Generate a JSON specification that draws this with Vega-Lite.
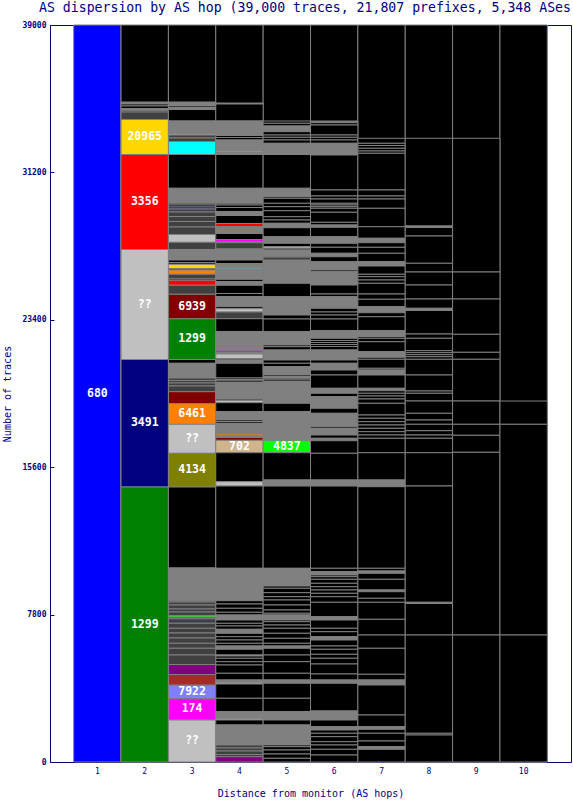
{
"$schema": "https://vega.github.io/schema/vega-lite/v6.json",
"autosize": {"type": "none"},
"padding": {"left": 50, "top": 25, "right": 2, "bottom": 38},
"width": 521,
"height": 737,
"background": "white",
"title": {"text": "AS dispersion by AS hop (39,000 traces, 21,807 prefixes, 5,348 ASes)", "anchor": "start", "frame": "group", "dx": -11, "dy": 12, "offset": 8, "baseline": "alphabetic", "font": "DejaVu Sans Mono", "fontSize": 13.2, "fontWeight": "normal", "color": "#000080"},
"config": {"view": {"stroke": "#000080", "strokeWidth": 1}},
"data": {"values": [
{"h":1,"a":0,"b":39000,"c":"680","t":"680"},
{"h":2,"a":0,"b":39000,"c":"none"},{"h":3,"a":0,"b":39000,"c":"none"},{"h":4,"a":0,"b":39000,"c":"none"},{"h":5,"a":0,"b":39000,"c":"none"},{"h":6,"a":0,"b":39000,"c":"none"},{"h":7,"a":0,"b":39000,"c":"none"},{"h":8,"a":0,"b":39000,"c":"none"},{"h":9,"a":0,"b":39000,"c":"none"},{"h":10,"a":0,"b":39000,"c":"none"},
{"h":2,"a":34819,"b":34925,"c":"many"},{"h":2,"a":34714,"b":34819,"c":"none"},{"h":2,"a":34581,"b":34714,"c":"none"},{"h":2,"a":34465,"b":34581,"c":"many"},{"h":2,"a":34396,"b":34465,"c":"none"},{"h":2,"a":34000,"b":34396,"c":"other"},
{"h":2,"a":32147,"b":34000,"c":"20965","t":"20965"},{"h":2,"a":27120,"b":32147,"c":"3356","t":"3356"},{"h":2,"a":21299,"b":27120,"c":"??","t":"??"},{"h":2,"a":14552,"b":21299,"c":"3491","t":"3491"},{"h":2,"a":0,"b":14552,"c":"1299","t":"1299"},
{"h":3,"a":34714,"b":34925,"c":"many"},{"h":3,"a":34634,"b":34714,"c":"none"},{"h":3,"a":34528,"b":34634,"c":"many"},{"h":3,"a":33920,"b":34528,"c":"none"},{"h":3,"a":33258,"b":33920,"c":"many"},{"h":3,"a":33179,"b":33258,"c":"??"},{"h":3,"a":33020,"b":33179,"c":"other"},{"h":3,"a":32835,"b":33020,"c":"other"},{"h":3,"a":32147,"b":32835,"c":"cyan"},{"h":3,"a":30359,"b":32147,"c":"none"},{"h":3,"a":29565,"b":30359,"c":"many"},{"h":3,"a":29475,"b":29565,"c":"none"},{"h":3,"a":29369,"b":29475,"c":"none"},{"h":3,"a":29263,"b":29369,"c":"3491"},{"h":3,"a":29104,"b":29263,"c":"other"},{"h":3,"a":28866,"b":29104,"c":"other"},{"h":3,"a":28602,"b":28866,"c":"other"},{"h":3,"a":28311,"b":28602,"c":"other"},{"h":3,"a":27914,"b":28311,"c":"other"},{"h":3,"a":27501,"b":27914,"c":"??"},{"h":3,"a":27120,"b":27501,"c":"other"},{"h":3,"a":26564,"b":27120,"c":"many"},{"h":3,"a":26432,"b":26564,"c":"none"},{"h":3,"a":26337,"b":26432,"c":"3491"},{"h":3,"a":26099,"b":26337,"c":"20965"},{"h":3,"a":26035,"b":26099,"c":"none"},{"h":3,"a":25808,"b":26035,"c":"6461"},{"h":3,"a":25559,"b":25808,"c":"other"},{"h":3,"a":25490,"b":25559,"c":"none"},{"h":3,"a":25226,"b":25490,"c":"3356"},{"h":3,"a":24749,"b":25226,"c":"other"},{"h":3,"a":23453,"b":24749,"c":"6939","t":"6939"},{"h":3,"a":21299,"b":23453,"c":"1299","t":"1299"},{"h":3,"a":21098,"b":21299,"c":"none"},{"h":3,"a":20320,"b":21098,"c":"many"},{"h":3,"a":20188,"b":20320,"c":"other"},{"h":3,"a":20056,"b":20188,"c":"other"},{"h":3,"a":19897,"b":20056,"c":"other"},{"h":3,"a":19595,"b":19897,"c":"other"},{"h":3,"a":18960,"b":19595,"c":"6939"},{"h":3,"a":17870,"b":18960,"c":"6461","t":"6461"},{"h":3,"a":16335,"b":17870,"c":"??","t":"??"},{"h":3,"a":14552,"b":16335,"c":"4134","t":"4134"},{"h":3,"a":10266,"b":14552,"c":"none"},{"h":3,"a":8536,"b":10266,"c":"many"},{"h":3,"a":8467,"b":8536,"c":"other"},{"h":3,"a":8308,"b":8467,"c":"other"},{"h":3,"a":8096,"b":8308,"c":"other"},{"h":3,"a":7938,"b":8096,"c":"other"},{"h":3,"a":7742,"b":7938,"c":"other"},{"h":3,"a":7657,"b":7742,"c":"4837"},{"h":3,"a":7578,"b":7657,"c":"680"},{"h":3,"a":7340,"b":7578,"c":"other"},{"h":3,"a":7075,"b":7340,"c":"other"},{"h":3,"a":6826,"b":7075,"c":"other"},{"h":3,"a":6562,"b":6826,"c":"other"},{"h":3,"a":6281,"b":6562,"c":"other"},{"h":3,"a":6017,"b":6281,"c":"other"},{"h":3,"a":5662,"b":6017,"c":"other"},{"h":3,"a":5159,"b":5662,"c":"other"},{"h":3,"a":4630,"b":5159,"c":"purple"},{"h":3,"a":4064,"b":4630,"c":"brown"},{"h":3,"a":3344,"b":4064,"c":"7922","t":"7922"},{"h":3,"a":2223,"b":3344,"c":"174","t":"174"},{"h":3,"a":0,"b":2223,"c":"??","t":"??"},
{"h":4,"a":34819,"b":34872,"c":"many"},{"h":4,"a":33920,"b":34819,"c":"none"},{"h":4,"a":33153,"b":33920,"c":"many"},{"h":4,"a":33047,"b":33153,"c":"none"},{"h":4,"a":32914,"b":33047,"c":"none"},{"h":4,"a":32359,"b":32914,"c":"many"},{"h":4,"a":32279,"b":32359,"c":"??"},{"h":4,"a":32147,"b":32279,"c":"many"},{"h":4,"a":30359,"b":32147,"c":"none"},{"h":4,"a":29565,"b":30359,"c":"many"},{"h":4,"a":29475,"b":29565,"c":"none"},{"h":4,"a":29342,"b":29475,"c":"none"},{"h":4,"a":29131,"b":29342,"c":"none"},{"h":4,"a":28919,"b":29131,"c":"many"},{"h":4,"a":28496,"b":28919,"c":"none"},{"h":4,"a":28326,"b":28496,"c":"3356"},{"h":4,"a":27967,"b":28326,"c":"many"},{"h":4,"a":27649,"b":27967,"c":"none"},{"h":4,"a":27533,"b":27649,"c":"174"},{"h":4,"a":27480,"b":27533,"c":"none"},{"h":4,"a":27146,"b":27480,"c":"other"},{"h":4,"a":26564,"b":27146,"c":"many"},{"h":4,"a":26379,"b":26564,"c":"none"},{"h":4,"a":26300,"b":26379,"c":"4134"},{"h":4,"a":26157,"b":26300,"c":"many"},{"h":4,"a":26088,"b":26157,"c":"cyan"},{"h":4,"a":25543,"b":26088,"c":"many"},{"h":4,"a":25427,"b":25543,"c":"none"},{"h":4,"a":25226,"b":25427,"c":"many"},{"h":4,"a":24792,"b":25226,"c":"none"},{"h":4,"a":24633,"b":24792,"c":"none"},{"h":4,"a":24093,"b":24633,"c":"many"},{"h":4,"a":23987,"b":24093,"c":"none"},{"h":4,"a":23813,"b":23987,"c":"??"},{"h":4,"a":23458,"b":23813,"c":"other"},{"h":4,"a":22781,"b":23458,"c":"none"},{"h":4,"a":22040,"b":22781,"c":"many"},{"h":4,"a":21976,"b":22040,"c":"purple"},{"h":4,"a":21786,"b":21976,"c":"many"},{"h":4,"a":21659,"b":21786,"c":"174"},{"h":4,"a":21590,"b":21659,"c":"many"},{"h":4,"a":21341,"b":21590,"c":"??"},{"h":4,"a":21273,"b":21341,"c":"none"},{"h":4,"a":21098,"b":21273,"c":"many"},{"h":4,"a":20320,"b":21098,"c":"none"},{"h":4,"a":20241,"b":20320,"c":"none"},{"h":4,"a":20161,"b":20241,"c":"none"},{"h":4,"a":20072,"b":20161,"c":"none"},{"h":4,"a":19209,"b":20072,"c":"many"},{"h":4,"a":19130,"b":19209,"c":"other"},{"h":4,"a":19013,"b":19130,"c":"??"},{"h":4,"a":18537,"b":19013,"c":"none"},{"h":4,"a":18098,"b":18537,"c":"many"},{"h":4,"a":18018,"b":18098,"c":"none"},{"h":4,"a":17923,"b":18018,"c":"none"},{"h":4,"a":17357,"b":17923,"c":"many"},{"h":4,"a":17277,"b":17357,"c":"6461"},{"h":4,"a":17172,"b":17277,"c":"many"},{"h":4,"a":17023,"b":17172,"c":"6939"},{"h":4,"a":16367,"b":17023,"c":"702","t":"702"},{"h":4,"a":14833,"b":16367,"c":"none"},{"h":4,"a":14605,"b":14833,"c":"??"},{"h":4,"a":10250,"b":14605,"c":"none"},{"h":4,"a":8536,"b":10250,"c":"many"},{"h":4,"a":8361,"b":8536,"c":"none"},{"h":4,"a":8133,"b":8361,"c":"none"},{"h":4,"a":7922,"b":8133,"c":"none"},{"h":4,"a":7779,"b":7922,"c":"none"},{"h":4,"a":7514,"b":7779,"c":"many"},{"h":4,"a":7340,"b":7514,"c":"none"},{"h":4,"a":7197,"b":7340,"c":"none"},{"h":4,"a":7022,"b":7197,"c":"none"},{"h":4,"a":6810,"b":7022,"c":"many"},{"h":4,"a":6631,"b":6810,"c":"none"},{"h":4,"a":6456,"b":6631,"c":"none"},{"h":4,"a":6281,"b":6456,"c":"none"},{"h":4,"a":6138,"b":6281,"c":"none"},{"h":4,"a":5964,"b":6138,"c":"many"},{"h":4,"a":5662,"b":5964,"c":"none"},{"h":4,"a":5609,"b":5662,"c":"??"},{"h":4,"a":5488,"b":5609,"c":"none"},{"h":4,"a":5308,"b":5488,"c":"none"},{"h":4,"a":5133,"b":5308,"c":"none"},{"h":4,"a":4694,"b":5133,"c":"none"},{"h":4,"a":4339,"b":4694,"c":"none"},{"h":4,"a":4218,"b":4339,"c":"many"},{"h":4,"a":4128,"b":4218,"c":"??"},{"h":4,"a":3371,"b":4128,"c":"none"},{"h":4,"a":2662,"b":3371,"c":"none"},{"h":4,"a":2312,"b":2662,"c":"many"},{"h":4,"a":2223,"b":2312,"c":"??"},{"h":4,"a":1958,"b":2223,"c":"none"},{"h":4,"a":900,"b":1958,"c":"many"},{"h":4,"a":741,"b":900,"c":"other"},{"h":4,"a":582,"b":741,"c":"other"},{"h":4,"a":397,"b":582,"c":"other"},{"h":4,"a":280,"b":397,"c":"other"},{"h":4,"a":0,"b":280,"c":"purple"},
{"h":5,"a":33798,"b":33920,"c":"none"},{"h":5,"a":33655,"b":33798,"c":"none"},{"h":5,"a":33354,"b":33655,"c":"many"},{"h":5,"a":33179,"b":33354,"c":"none"},{"h":5,"a":33057,"b":33179,"c":"none"},{"h":5,"a":32914,"b":33057,"c":"none"},{"h":5,"a":32740,"b":32914,"c":"none"},{"h":5,"a":32464,"b":32740,"c":"many"},{"h":5,"a":32412,"b":32464,"c":"none"},{"h":5,"a":32147,"b":32412,"c":"many"},{"h":5,"a":30359,"b":32147,"c":"none"},{"h":5,"a":29914,"b":30359,"c":"many"},{"h":5,"a":29829,"b":29914,"c":"none"},{"h":5,"a":29565,"b":29829,"c":"none"},{"h":5,"a":29385,"b":29565,"c":"none"},{"h":5,"a":29173,"b":29385,"c":"none"},{"h":5,"a":28856,"b":29173,"c":"none"},{"h":5,"a":28681,"b":28856,"c":"none"},{"h":5,"a":28506,"b":28681,"c":"none"},{"h":5,"a":28326,"b":28506,"c":"many"},{"h":5,"a":28273,"b":28326,"c":"??"},{"h":5,"a":27797,"b":28273,"c":"none"},{"h":5,"a":27448,"b":27797,"c":"many"},{"h":5,"a":27268,"b":27448,"c":"none"},{"h":5,"a":27183,"b":27268,"c":"??"},{"h":5,"a":27093,"b":27183,"c":"none"},{"h":5,"a":26739,"b":27093,"c":"many"},{"h":5,"a":26670,"b":26739,"c":"none"},{"h":5,"a":26564,"b":26670,"c":"none"},{"h":5,"a":26062,"b":26564,"c":"many"},{"h":5,"a":26009,"b":26062,"c":"none"},{"h":5,"a":25532,"b":26009,"c":"many"},{"h":5,"a":25480,"b":25532,"c":"none"},{"h":5,"a":25331,"b":25480,"c":"many"},{"h":5,"a":24622,"b":25331,"c":"none"},{"h":5,"a":23654,"b":24622,"c":"many"},{"h":5,"a":23442,"b":23654,"c":"none"},{"h":5,"a":22770,"b":23442,"c":"none"},{"h":5,"a":22066,"b":22770,"c":"many"},{"h":5,"a":21976,"b":22066,"c":"none"},{"h":5,"a":21802,"b":21976,"c":"none"},{"h":5,"a":21273,"b":21802,"c":"many"},{"h":5,"a":21098,"b":21273,"c":"none"},{"h":5,"a":20918,"b":21098,"c":"none"},{"h":5,"a":20479,"b":20918,"c":"many"},{"h":5,"a":20400,"b":20479,"c":"none"},{"h":5,"a":20304,"b":20400,"c":"many"},{"h":5,"a":20214,"b":20304,"c":"none"},{"h":5,"a":20124,"b":20214,"c":"none"},{"h":5,"a":18981,"b":20124,"c":"many"},{"h":5,"a":18537,"b":18981,"c":"none"},{"h":5,"a":17023,"b":18537,"c":"many"},{"h":5,"a":16367,"b":17023,"c":"4837","t":"4837"},{"h":5,"a":14923,"b":16367,"c":"none"},{"h":5,"a":14605,"b":14923,"c":"many"},{"h":5,"a":10250,"b":14605,"c":"none"},{"h":5,"a":9313,"b":10250,"c":"many"},{"h":5,"a":9192,"b":9313,"c":"none"},{"h":5,"a":8959,"b":9192,"c":"none"},{"h":5,"a":8747,"b":8959,"c":"none"},{"h":5,"a":8573,"b":8747,"c":"none"},{"h":5,"a":8308,"b":8573,"c":"none"},{"h":5,"a":8043,"b":8308,"c":"none"},{"h":5,"a":7869,"b":8043,"c":"none"},{"h":5,"a":7779,"b":7869,"c":"none"},{"h":5,"a":7514,"b":7779,"c":"many"},{"h":5,"a":7424,"b":7514,"c":"none"},{"h":5,"a":7250,"b":7424,"c":"none"},{"h":5,"a":7075,"b":7250,"c":"none"},{"h":5,"a":6810,"b":7075,"c":"none"},{"h":5,"a":6546,"b":6810,"c":"none"},{"h":5,"a":6281,"b":6546,"c":"none"},{"h":5,"a":6138,"b":6281,"c":"none"},{"h":5,"a":6017,"b":6138,"c":"many"},{"h":5,"a":5662,"b":6017,"c":"none"},{"h":5,"a":5308,"b":5662,"c":"none"},{"h":5,"a":4694,"b":5308,"c":"none"},{"h":5,"a":4339,"b":4694,"c":"none"},{"h":5,"a":4165,"b":4339,"c":"many"},{"h":5,"a":3371,"b":4165,"c":"none"},{"h":5,"a":2662,"b":3371,"c":"none"},{"h":5,"a":2223,"b":2662,"c":"many"},{"h":5,"a":1958,"b":2223,"c":"none"},{"h":5,"a":900,"b":1958,"c":"many"},{"h":5,"a":810,"b":900,"c":"none"},{"h":5,"a":635,"b":810,"c":"none"},{"h":5,"a":423,"b":635,"c":"none"},{"h":5,"a":196,"b":423,"c":"none"},{"h":5,"a":0,"b":196,"c":"none"},
{"h":6,"a":33830,"b":33920,"c":"many"},{"h":6,"a":33708,"b":33830,"c":"none"},{"h":6,"a":33179,"b":33708,"c":"none"},{"h":6,"a":33057,"b":33179,"c":"none"},{"h":6,"a":32914,"b":33057,"c":"none"},{"h":6,"a":32740,"b":32914,"c":"none"},{"h":6,"a":32464,"b":32740,"c":"many"},{"h":6,"a":32412,"b":32464,"c":"none"},{"h":6,"a":32121,"b":32412,"c":"many"},{"h":6,"a":30269,"b":32121,"c":"none"},{"h":6,"a":29951,"b":30269,"c":"none"},{"h":6,"a":29792,"b":29951,"c":"none"},{"h":6,"a":29565,"b":29792,"c":"none"},{"h":6,"a":29475,"b":29565,"c":"none"},{"h":6,"a":29385,"b":29475,"c":"none"},{"h":6,"a":29300,"b":29385,"c":"none"},{"h":6,"a":29089,"b":29300,"c":"none"},{"h":6,"a":28559,"b":29089,"c":"none"},{"h":6,"a":28416,"b":28559,"c":"none"},{"h":6,"a":28295,"b":28416,"c":"many"},{"h":6,"a":27797,"b":28295,"c":"none"},{"h":6,"a":27448,"b":27797,"c":"many"},{"h":6,"a":27236,"b":27448,"c":"none"},{"h":6,"a":26919,"b":27236,"c":"none"},{"h":6,"a":26739,"b":26919,"c":"many"},{"h":6,"a":26474,"b":26739,"c":"none"},{"h":6,"a":26035,"b":26474,"c":"many"},{"h":6,"a":25945,"b":26035,"c":"none"},{"h":6,"a":25241,"b":25945,"c":"many"},{"h":6,"a":24765,"b":25241,"c":"none"},{"h":6,"a":24622,"b":24765,"c":"none"},{"h":6,"a":24008,"b":24622,"c":"many"},{"h":6,"a":23813,"b":24008,"c":"none"},{"h":6,"a":23654,"b":23813,"c":"none"},{"h":6,"a":23442,"b":23654,"c":"none"},{"h":6,"a":22823,"b":23442,"c":"none"},{"h":6,"a":22421,"b":22823,"c":"many"},{"h":6,"a":22305,"b":22421,"c":"none"},{"h":6,"a":22199,"b":22305,"c":"none"},{"h":6,"a":22093,"b":22199,"c":"none"},{"h":6,"a":21987,"b":22093,"c":"none"},{"h":6,"a":21802,"b":21987,"c":"none"},{"h":6,"a":21273,"b":21802,"c":"many"},{"h":6,"a":21098,"b":21273,"c":"none"},{"h":6,"a":20743,"b":21098,"c":"many"},{"h":6,"a":20479,"b":20743,"c":"none"},{"h":6,"a":19775,"b":20479,"c":"none"},{"h":6,"a":19511,"b":19775,"c":"many"},{"h":6,"a":19331,"b":19511,"c":"none"},{"h":6,"a":18717,"b":19331,"c":"many"},{"h":6,"a":18452,"b":18717,"c":"none"},{"h":6,"a":17743,"b":18452,"c":"many"},{"h":6,"a":17658,"b":17743,"c":"none"},{"h":6,"a":17304,"b":17658,"c":"many"},{"h":6,"a":17129,"b":17304,"c":"none"},{"h":6,"a":17002,"b":17129,"c":"many"},{"h":6,"a":16335,"b":17002,"c":"none"},{"h":6,"a":14923,"b":16335,"c":"none"},{"h":6,"a":14605,"b":14923,"c":"many"},{"h":6,"a":10250,"b":14605,"c":"none"},{"h":6,"a":10070,"b":10250,"c":"none"},{"h":6,"a":9895,"b":10070,"c":"many"},{"h":6,"a":9806,"b":9895,"c":"none"},{"h":6,"a":9668,"b":9806,"c":"none"},{"h":6,"a":9456,"b":9668,"c":"none"},{"h":6,"a":9276,"b":9456,"c":"none"},{"h":6,"a":9102,"b":9276,"c":"none"},{"h":6,"a":8927,"b":9102,"c":"none"},{"h":6,"a":8747,"b":8927,"c":"none"},{"h":6,"a":8451,"b":8747,"c":"none"},{"h":6,"a":7689,"b":8451,"c":"none"},{"h":6,"a":7514,"b":7689,"c":"many"},{"h":6,"a":7075,"b":7514,"c":"none"},{"h":6,"a":6895,"b":7075,"c":"none"},{"h":6,"a":6631,"b":6895,"c":"none"},{"h":6,"a":6456,"b":6631,"c":"many"},{"h":6,"a":6138,"b":6456,"c":"none"},{"h":6,"a":5964,"b":6138,"c":"none"},{"h":6,"a":5699,"b":5964,"c":"none"},{"h":6,"a":5488,"b":5699,"c":"none"},{"h":6,"a":5186,"b":5488,"c":"none"},{"h":6,"a":4657,"b":5186,"c":"none"},{"h":6,"a":4339,"b":4657,"c":"none"},{"h":6,"a":4165,"b":4339,"c":"many"},{"h":6,"a":2699,"b":4165,"c":"none"},{"h":6,"a":2223,"b":2699,"c":"many"},{"h":6,"a":1868,"b":2223,"c":"none"},{"h":6,"a":1693,"b":1868,"c":"many"},{"h":6,"a":1519,"b":1693,"c":"none"},{"h":6,"a":1339,"b":1519,"c":"none"},{"h":6,"a":1074,"b":1339,"c":"none"},{"h":6,"a":900,"b":1074,"c":"none"},{"h":6,"a":672,"b":900,"c":"none"},{"h":6,"a":370,"b":672,"c":"none"},{"h":6,"a":0,"b":370,"c":"none"},
{"h":7,"a":32740,"b":33004,"c":"none"},{"h":7,"a":32623,"b":32740,"c":"none"},{"h":7,"a":32475,"b":32623,"c":"none"},{"h":7,"a":32332,"b":32475,"c":"none"},{"h":7,"a":32211,"b":32332,"c":"none"},{"h":7,"a":30269,"b":32211,"c":"none"},{"h":7,"a":29951,"b":30269,"c":"none"},{"h":7,"a":29792,"b":29951,"c":"none"},{"h":7,"a":29300,"b":29792,"c":"none"},{"h":7,"a":28326,"b":29300,"c":"none"},{"h":7,"a":27713,"b":28326,"c":"none"},{"h":7,"a":27480,"b":27713,"c":"many"},{"h":7,"a":27236,"b":27480,"c":"none"},{"h":7,"a":26919,"b":27236,"c":"none"},{"h":7,"a":26474,"b":26919,"c":"none"},{"h":7,"a":26247,"b":26474,"c":"many"},{"h":7,"a":25808,"b":26247,"c":"none"},{"h":7,"a":25681,"b":25808,"c":"none"},{"h":7,"a":25506,"b":25681,"c":"none"},{"h":7,"a":25331,"b":25506,"c":"none"},{"h":7,"a":24765,"b":25331,"c":"none"},{"h":7,"a":24485,"b":24765,"c":"none"},{"h":7,"a":24093,"b":24485,"c":"none"},{"h":7,"a":23776,"b":24093,"c":"many"},{"h":7,"a":23564,"b":23776,"c":"none"},{"h":7,"a":22823,"b":23564,"c":"none"},{"h":7,"a":22516,"b":22823,"c":"many"},{"h":7,"a":22421,"b":22516,"c":"none"},{"h":7,"a":22241,"b":22421,"c":"none"},{"h":7,"a":21712,"b":22241,"c":"none"},{"h":7,"a":21416,"b":21712,"c":"many"},{"h":7,"a":21310,"b":21416,"c":"none"},{"h":7,"a":20833,"b":21310,"c":"none"},{"h":7,"a":20743,"b":20833,"c":"none"},{"h":7,"a":20479,"b":20743,"c":"many"},{"h":7,"a":19775,"b":20479,"c":"none"},{"h":7,"a":19648,"b":19775,"c":"many"},{"h":7,"a":19511,"b":19648,"c":"none"},{"h":7,"a":19368,"b":19511,"c":"none"},{"h":7,"a":19209,"b":19368,"c":"none"},{"h":7,"a":18981,"b":19209,"c":"none"},{"h":7,"a":18362,"b":18981,"c":"none"},{"h":7,"a":18188,"b":18362,"c":"none"},{"h":7,"a":18008,"b":18188,"c":"none"},{"h":7,"a":17833,"b":18008,"c":"none"},{"h":7,"a":17658,"b":17833,"c":"none"},{"h":7,"a":17479,"b":17658,"c":"none"},{"h":7,"a":17304,"b":17479,"c":"none"},{"h":7,"a":17129,"b":17304,"c":"none"},{"h":7,"a":16367,"b":17129,"c":"none"},{"h":7,"a":14923,"b":16367,"c":"none"},{"h":7,"a":14568,"b":14923,"c":"many"},{"h":7,"a":10250,"b":14568,"c":"none"},{"h":7,"a":10107,"b":10250,"c":"none"},{"h":7,"a":9985,"b":10107,"c":"many"},{"h":7,"a":9668,"b":9985,"c":"none"},{"h":7,"a":9102,"b":9668,"c":"none"},{"h":7,"a":9012,"b":9102,"c":"many"},{"h":7,"a":8662,"b":9012,"c":"none"},{"h":7,"a":8451,"b":8662,"c":"none"},{"h":7,"a":7551,"b":8451,"c":"none"},{"h":7,"a":6720,"b":7551,"c":"none"},{"h":7,"a":6017,"b":6720,"c":"none"},{"h":7,"a":4641,"b":6017,"c":"none"},{"h":7,"a":4339,"b":4641,"c":"none"},{"h":7,"a":4075,"b":4339,"c":"many"},{"h":7,"a":2487,"b":4075,"c":"none"},{"h":7,"a":1868,"b":2487,"c":"none"},{"h":7,"a":1730,"b":1868,"c":"many"},{"h":7,"a":1519,"b":1730,"c":"none"},{"h":7,"a":1111,"b":1519,"c":"none"},{"h":7,"a":810,"b":1111,"c":"none"},{"h":7,"a":672,"b":810,"c":"many"},{"h":7,"a":0,"b":672,"c":"none"},
{"h":8,"a":28364,"b":33004,"c":"none"},{"h":8,"a":28284,"b":28364,"c":"many"},{"h":8,"a":27834,"b":28284,"c":"none"},{"h":8,"a":26390,"b":27834,"c":"none"},{"h":8,"a":25929,"b":26390,"c":"none"},{"h":8,"a":25241,"b":25929,"c":"none"},{"h":8,"a":24501,"b":25241,"c":"none"},{"h":8,"a":24008,"b":24501,"c":"none"},{"h":8,"a":23892,"b":24008,"c":"many"},{"h":8,"a":22648,"b":23892,"c":"none"},{"h":8,"a":22421,"b":22648,"c":"none"},{"h":8,"a":21765,"b":22421,"c":"none"},{"h":8,"a":21659,"b":21765,"c":"none"},{"h":8,"a":21553,"b":21659,"c":"none"},{"h":8,"a":21447,"b":21553,"c":"none"},{"h":8,"a":21310,"b":21447,"c":"none"},{"h":8,"a":20479,"b":21310,"c":"none"},{"h":8,"a":19632,"b":20479,"c":"none"},{"h":8,"a":19511,"b":19632,"c":"none"},{"h":8,"a":19103,"b":19511,"c":"none"},{"h":8,"a":18452,"b":19103,"c":"none"},{"h":8,"a":18098,"b":18452,"c":"none"},{"h":8,"a":17870,"b":18098,"c":"none"},{"h":8,"a":17531,"b":17870,"c":"none"},{"h":8,"a":17304,"b":17531,"c":"none"},{"h":8,"a":17129,"b":17304,"c":"none"},{"h":8,"a":16367,"b":17129,"c":"none"},{"h":8,"a":14605,"b":16367,"c":"none"},{"h":8,"a":8451,"b":14605,"c":"none"},{"h":8,"a":8387,"b":8451,"c":"many"},{"h":8,"a":6720,"b":8387,"c":"none"},{"h":8,"a":1519,"b":6720,"c":"none"},{"h":8,"a":1429,"b":1519,"c":"none"},{"h":8,"a":0,"b":1429,"c":"none"},
{"h":9,"a":25929,"b":33004,"c":"none"},{"h":9,"a":24501,"b":25929,"c":"none"},{"h":9,"a":22632,"b":24501,"c":"none"},{"h":9,"a":21680,"b":22632,"c":"none"},{"h":9,"a":21310,"b":21680,"c":"none"},{"h":9,"a":19103,"b":21310,"c":"none"},{"h":9,"a":17870,"b":19103,"c":"none"},{"h":9,"a":17288,"b":17870,"c":"none"},{"h":9,"a":16388,"b":17288,"c":"none"},{"h":9,"a":6720,"b":16388,"c":"none"},{"h":9,"a":0,"b":6720,"c":"none"},
{"h":10,"a":17870,"b":19103,"c":"none"},{"h":10,"a":6720,"b":17870,"c":"none"},{"h":10,"a":0,"b":6720,"c":"none"}
]},
"encoding": {
"x": {"field": "h", "type": "ordinal", "scale": {"domain": [1,2,3,4,5,6,7,8,9,10], "paddingInner": 0, "paddingOuter": 0.5},
 "axis": {"title": "Distance from monitor (AS hops)", "labelAngle": 0, "ticks": false, "domain": false, "labelFont": "DejaVu Sans Mono", "labelFontSize": 8, "labelColor": "#000080", "labelPadding": 5, "titleFont": "DejaVu Sans Mono", "titleFontSize": 10, "titleFontWeight": "normal", "titleColor": "#000080", "titleY": 31, "titleBaseline": "middle"}}
},
"layer": [
{"mark": {"type": "rect", "stroke": "#808080", "strokeWidth": 1},
 "encoding": {
  "y": {"field": "a", "type": "quantitative", "scale": {"domain": [0, 39000], "nice": false, "zero": true},
   "axis": {"title": "Number of traces", "values": [0, 7800, 15600, 23400, 31200, 39000], "format": "d", "grid": false, "domain": false, "tickColor": "#000080", "tickSize": -4, "labelPadding": 8, "labelFont": "DejaVu Sans Mono", "labelFontSize": 8, "labelFontWeight": "bold", "labelColor": "#000080", "titleFont": "DejaVu Sans Mono", "titleFontSize": 10, "titleFontWeight": "normal", "titleColor": "#000080", "titleX": -43, "titleBaseline": "middle"}},
  "y2": {"field": "b"},
  "fill": {"field": "c", "type": "nominal", "legend": null, "scale": {
   "domain": ["680","1299","3491","??","3356","20965","6939","6461","4134","702","4837","7922","174","cyan","purple","brown","many","other","none"],
   "range": ["#0000ff","#008000","#000080","#c0c0c0","#ff0000","#ffd700","#800000","#ff8000","#808000","#d2b48c","#00ff00","#8080ff","#ff00ff","#00ffff","#800080","#a52a2a","#808080","#404040","#000000"]}}
 }},
{"transform": [{"filter": "datum.t"}, {"calculate": "(datum.a + datum.b) / 2", "as": "m"}],
 "mark": {"type": "text", "color": "white", "font": "DejaVu Sans Mono", "fontSize": 11.5, "fontWeight": "bold", "baseline": "middle", "align": "center"},
 "encoding": {"y": {"field": "m", "type": "quantitative"}, "text": {"field": "t"}}}
]
}
